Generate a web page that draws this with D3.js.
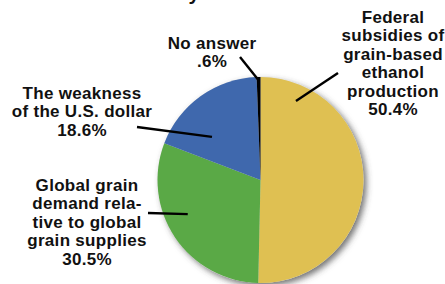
<!DOCTYPE html>
<html><head><meta charset="utf-8">
<script src="https://cdn.jsdelivr.net/npm/d3@7"></script>
<style>
html,body{margin:0;padding:0;background:#fff;}
svg{display:block;}
text{font-family:"Liberation Sans",Arial,Helvetica,sans-serif;font-weight:bold;fill:#111;}
</style></head>
<body>
<script>
// ---- data ----
const categories = ["Federal subsidies of grain-based ethanol production",
  "Global grain demand relative to global grain supplies",
  "The weakness of the U.S. dollar",
  "No answer"];
const values = [50.4, 30.5, 18.6, 0.6];
const valueLabels = ["50.4%", "30.5%", "18.6%", ".6%"];
const labelLines = [
  ["Federal", "subsidies of", "grain-based", "ethanol", "production"],
  ["Global grain", "demand rela-", "tive to global", "grain supplies"],
  ["The weakness", "of the U.S. dollar"],
  ["No answer"]
];
const colors = ["#dfc052", "#5aa946", "#3f68ad", "#000000"];

// ---- layout ----
const W = 445, H = 284;
const cx = 260.5, cy = 180, R = 103;
const labelPos = [ {x:393, y:23}, {x:87, y:191}, {x:82, y:99}, {x:212, y:49} ];
const lineH = 18.4;
// leader: angle (deg, clockwise from top), radius fraction, outer point
const leaders = [
  {a:24.2, f:0.84, ox:338, oy:73},
  {a:244.9, f:0.78, ox:148, oy:213},
  {a:311.6, f:0.63, ox:137, oy:127},
  {a:-1.2, f:0.97, ox:240, oy:57}
];

const svg = d3.select("body").append("svg").attr("width", W).attr("height", H);
const defs = svg.append("defs");
const flt = defs.append("filter").attr("id","shadow").attr("x","-20%").attr("y","-20%").attr("width","150%").attr("height","150%");
flt.append("feDropShadow").attr("dx",3).attr("dy",3).attr("stdDeviation",3)
  .attr("flood-color","#444").attr("flood-opacity",0.75);

// cut-off title fragment
svg.append("text").attr("x",194).attr("y",0).attr("text-anchor","middle")
  .style("font-size","20px").text("y");

const pie = d3.pie().sort(null).value(d => d).startAngle(0).endAngle(2*Math.PI);
const arcs = pie(values);
const arc = d3.arc().innerRadius(0).outerRadius(R);

const g = svg.append("g").attr("transform", `translate(${cx},${cy})`);
g.append("circle").attr("r", R).attr("fill", "#ddd").attr("filter","url(#shadow)");
g.selectAll("path.slice").data(arcs).join("path").attr("class","slice")
  .attr("d", arc).attr("fill", (d,i) => colors[i]);

// leader lines
leaders.forEach((l, i) => {
  const ang = l.a * Math.PI/180;
  const ix = cx + Math.sin(ang) * R * l.f;
  const iy = cy - Math.cos(ang) * R * l.f;
  svg.append("line").attr("x1", l.ox).attr("y1", l.oy).attr("x2", ix).attr("y2", iy)
    .attr("stroke", "#000").attr("stroke-width", 2.4);
});

// labels
labelLines.forEach((lines, i) => {
  const all = lines.concat([valueLabels[i]]);
  const t = svg.append("text").attr("text-anchor","middle")
    .style("font-size","17px").style("letter-spacing","0.3px");
  all.forEach((s, j) => {
    t.append("tspan").attr("x", labelPos[i].x).attr("y", labelPos[i].y + j*(i===3?18:lineH)).text(s);
  });
});
</script>
</body></html>
